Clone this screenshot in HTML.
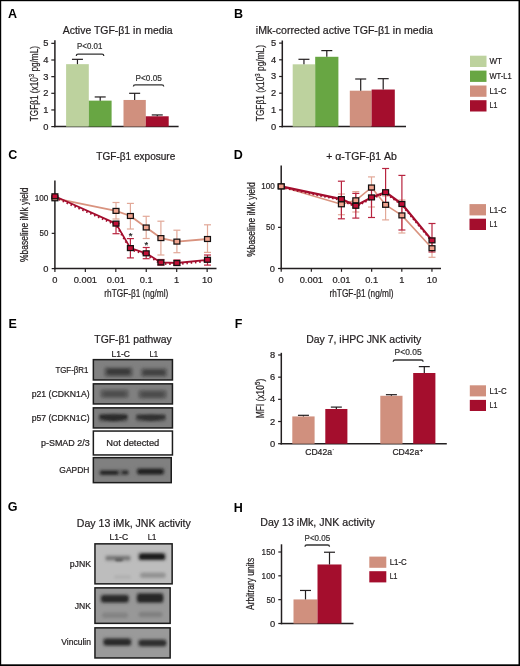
<!DOCTYPE html>
<html><head><meta charset="utf-8"><style>
html,body{margin:0;padding:0;background:#fff;}
body{width:520px;height:666px;overflow:hidden;}
svg{display:block;font-family:"Liberation Sans", sans-serif;will-change:transform;}
text{stroke:currentColor;stroke-width:0.22px;}
</style></head><body>
<svg width="520" height="666" viewBox="0 0 520 666">
<defs>
<filter id="b1" x="-50%" y="-100%" width="200%" height="300%"><feGaussianBlur stdDeviation="0.9"/></filter>
<filter id="b3" x="-50%" y="-100%" width="200%" height="300%"><feGaussianBlur stdDeviation="1.25"/></filter>
<filter id="b2" x="-50%" y="-100%" width="200%" height="300%"><feGaussianBlur stdDeviation="1.8"/></filter>
</defs>
<rect x="0" y="0" width="520" height="666" fill="#fff"/>
<text x="8" y="18.2" font-size="12.5" font-weight="bold" style="stroke-width:0" fill="#000" color="#000">A</text>
<text x="62.7" y="33.6" font-size="10.5" textLength="110" lengthAdjust="spacingAndGlyphs" fill="#231f20" color="#231f20">Active TGF-&#946;1 in media</text>
<line x1="54.9" y1="40.2" x2="54.9" y2="127.35" stroke="#231f20" stroke-width="1.5"/>
<line x1="54.15" y1="126.6" x2="178.6" y2="126.6" stroke="#231f20" stroke-width="1.5"/>
<line x1="51.3" y1="126.6" x2="54.9" y2="126.6" stroke="#231f20" stroke-width="1.2"/>
<text x="48.3" y="129.5" font-size="9.3" text-anchor="end" fill="#231f20" color="#231f20">0</text>
<line x1="51.3" y1="109.95" x2="54.9" y2="109.95" stroke="#231f20" stroke-width="1.2"/>
<text x="48.3" y="112.85" font-size="9.3" text-anchor="end" fill="#231f20" color="#231f20">1</text>
<line x1="51.3" y1="93.3" x2="54.9" y2="93.3" stroke="#231f20" stroke-width="1.2"/>
<text x="48.3" y="96.2" font-size="9.3" text-anchor="end" fill="#231f20" color="#231f20">2</text>
<line x1="51.3" y1="76.65" x2="54.9" y2="76.65" stroke="#231f20" stroke-width="1.2"/>
<text x="48.3" y="79.55" font-size="9.3" text-anchor="end" fill="#231f20" color="#231f20">3</text>
<line x1="51.3" y1="60" x2="54.9" y2="60" stroke="#231f20" stroke-width="1.2"/>
<text x="48.3" y="62.9" font-size="9.3" text-anchor="end" fill="#231f20" color="#231f20">4</text>
<line x1="51.3" y1="43.35" x2="54.9" y2="43.35" stroke="#231f20" stroke-width="1.2"/>
<text x="48.3" y="46.25" font-size="9.3" text-anchor="end" fill="#231f20" color="#231f20">5</text>
<text x="37.7" y="121.2" font-size="10.4" textLength="75.2" lengthAdjust="spacingAndGlyphs" transform="rotate(-90 37.7 121.2)" fill="#231f20" color="#231f20">TGF&#946;1 (x10<tspan font-size="7.6" dy="-3.6">3</tspan><tspan dy="3.6"> pg/mL)</tspan></text>
<rect x="66.1" y="64.16" width="22.7" height="62.44" fill="#bdd29e"/>
<line x1="77.45" y1="64.16" x2="77.45" y2="59.33" stroke="#231f20" stroke-width="1.2"/>
<line x1="71.95" y1="59.33" x2="82.95" y2="59.33" stroke="#231f20" stroke-width="1.2"/>
<rect x="88.8" y="100.63" width="22.8" height="25.97" fill="#68a643"/>
<line x1="100.2" y1="100.63" x2="100.2" y2="96.96" stroke="#231f20" stroke-width="1.2"/>
<line x1="94.7" y1="96.96" x2="105.7" y2="96.96" stroke="#231f20" stroke-width="1.2"/>
<rect x="123.5" y="99.96" width="22.3" height="26.64" fill="#d0907e"/>
<line x1="134.65" y1="99.96" x2="134.65" y2="93.3" stroke="#231f20" stroke-width="1.2"/>
<line x1="129.15" y1="93.3" x2="140.15" y2="93.3" stroke="#231f20" stroke-width="1.2"/>
<rect x="145.8" y="116.28" width="22.9" height="10.32" fill="#a40e2d"/>
<line x1="157.25" y1="116.28" x2="157.25" y2="114.94" stroke="#231f20" stroke-width="1.2"/>
<line x1="151.75" y1="114.94" x2="162.75" y2="114.94" stroke="#231f20" stroke-width="1.2"/>
<path d="M76.3 55.9 Q76.3 54.1 78.1 54.1 L102.0 54.1 Q103.8 54.1 103.8 55.9" fill="none" stroke="#333" stroke-width="1.3"/>
<text x="77" y="49" font-size="8.4" textLength="25.3" lengthAdjust="spacingAndGlyphs" fill="#333" color="#333">P&lt;0.01</text>
<path d="M133.4 86.6 Q133.4 84.8 135.20000000000002 84.8 L161.89999999999998 84.8 Q163.7 84.8 163.7 86.6" fill="none" stroke="#333" stroke-width="1.3"/>
<text x="135.6" y="80.7" font-size="8.4" textLength="26.2" lengthAdjust="spacingAndGlyphs" fill="#333" color="#333">P&lt;0.05</text>
<text x="234" y="18" font-size="12.5" font-weight="bold" style="stroke-width:0" fill="#000" color="#000">B</text>
<text x="255.8" y="33.7" font-size="10.5" textLength="177" lengthAdjust="spacingAndGlyphs" fill="#231f20" color="#231f20">iMk-corrected active TGF-&#946;1 in media</text>
<line x1="282.3" y1="40.5" x2="282.3" y2="127.35" stroke="#231f20" stroke-width="1.5"/>
<line x1="281.55" y1="126.6" x2="406" y2="126.6" stroke="#231f20" stroke-width="1.5"/>
<line x1="279.1" y1="126.6" x2="282.3" y2="126.6" stroke="#231f20" stroke-width="1.2"/>
<text x="276.2" y="129.5" font-size="9.3" text-anchor="end" fill="#231f20" color="#231f20">0</text>
<line x1="279.1" y1="109.9" x2="282.3" y2="109.9" stroke="#231f20" stroke-width="1.2"/>
<text x="276.2" y="112.8" font-size="9.3" text-anchor="end" fill="#231f20" color="#231f20">1</text>
<line x1="279.1" y1="93.2" x2="282.3" y2="93.2" stroke="#231f20" stroke-width="1.2"/>
<text x="276.2" y="96.1" font-size="9.3" text-anchor="end" fill="#231f20" color="#231f20">2</text>
<line x1="279.1" y1="76.5" x2="282.3" y2="76.5" stroke="#231f20" stroke-width="1.2"/>
<text x="276.2" y="79.4" font-size="9.3" text-anchor="end" fill="#231f20" color="#231f20">3</text>
<line x1="279.1" y1="59.8" x2="282.3" y2="59.8" stroke="#231f20" stroke-width="1.2"/>
<text x="276.2" y="62.7" font-size="9.3" text-anchor="end" fill="#231f20" color="#231f20">4</text>
<line x1="279.1" y1="43.1" x2="282.3" y2="43.1" stroke="#231f20" stroke-width="1.2"/>
<text x="276.2" y="46" font-size="9.3" text-anchor="end" fill="#231f20" color="#231f20">5</text>
<text x="263.7" y="121.2" font-size="10.4" textLength="76.2" lengthAdjust="spacingAndGlyphs" transform="rotate(-90 263.7 121.2)" fill="#231f20" color="#231f20">TGF&#946;1 (x10<tspan font-size="7.6" dy="-3.6">3</tspan><tspan dy="3.6"> pg/mL)</tspan></text>
<rect x="292.7" y="64.31" width="22.5" height="62.29" fill="#bdd29e"/>
<line x1="303.95" y1="64.31" x2="303.95" y2="59.3" stroke="#231f20" stroke-width="1.2"/>
<line x1="298.45" y1="59.3" x2="309.45" y2="59.3" stroke="#231f20" stroke-width="1.2"/>
<rect x="315.2" y="56.79" width="23.2" height="69.81" fill="#68a643"/>
<line x1="326.8" y1="56.79" x2="326.8" y2="50.61" stroke="#231f20" stroke-width="1.2"/>
<line x1="321.3" y1="50.61" x2="332.3" y2="50.61" stroke="#231f20" stroke-width="1.2"/>
<rect x="349.8" y="90.69" width="21.8" height="35.9" fill="#d0907e"/>
<line x1="360.7" y1="90.69" x2="360.7" y2="79" stroke="#231f20" stroke-width="1.2"/>
<line x1="355.2" y1="79" x2="366.2" y2="79" stroke="#231f20" stroke-width="1.2"/>
<rect x="371.6" y="89.53" width="23.2" height="37.07" fill="#a40e2d"/>
<line x1="383.2" y1="89.53" x2="383.2" y2="78.67" stroke="#231f20" stroke-width="1.2"/>
<line x1="377.7" y1="78.67" x2="388.7" y2="78.67" stroke="#231f20" stroke-width="1.2"/>
<rect x="470" y="55.7" width="16.5" height="11.3" fill="#bdd29e"/>
<text x="489.5" y="63.9" font-size="8.5" textLength="12.5" lengthAdjust="spacingAndGlyphs" fill="#231f20" color="#231f20">WT</text>
<rect x="470" y="70.6" width="16.5" height="11.3" fill="#68a643"/>
<text x="489.5" y="78.8" font-size="8.5" textLength="22.2" lengthAdjust="spacingAndGlyphs" fill="#231f20" color="#231f20">WT-L1</text>
<rect x="470" y="85.5" width="16.5" height="11.3" fill="#d0907e"/>
<text x="489.5" y="93.7" font-size="8.5" textLength="17.0" lengthAdjust="spacingAndGlyphs" fill="#231f20" color="#231f20">L1-C</text>
<rect x="470" y="100.2" width="16.5" height="11.3" fill="#a40e2d"/>
<text x="489.5" y="108.4" font-size="8.5" textLength="7.8" lengthAdjust="spacingAndGlyphs" fill="#231f20" color="#231f20">L1</text>
<text x="8.3" y="159.3" font-size="12.5" font-weight="bold" style="stroke-width:0" fill="#000" color="#000">C</text>
<text x="96.3" y="159.8" font-size="10.5" textLength="79" lengthAdjust="spacingAndGlyphs" fill="#231f20" color="#231f20">TGF-&#946;1 exposure</text>
<line x1="54.9" y1="180.6" x2="54.9" y2="269.35" stroke="#231f20" stroke-width="1.5"/>
<line x1="54.15" y1="268.6" x2="216.5" y2="268.6" stroke="#231f20" stroke-width="1.5"/>
<line x1="51.7" y1="268.6" x2="54.9" y2="268.6" stroke="#231f20" stroke-width="1.2"/>
<text x="48.4" y="271.6" font-size="9.3" text-anchor="end" fill="#231f20" color="#231f20">0</text>
<line x1="51.7" y1="233.35" x2="54.9" y2="233.35" stroke="#231f20" stroke-width="1.2"/>
<text x="48.4" y="236.35" font-size="9.3" text-anchor="end" textLength="8.8" lengthAdjust="spacingAndGlyphs" fill="#231f20" color="#231f20">50</text>
<line x1="51.7" y1="198.1" x2="54.9" y2="198.1" stroke="#231f20" stroke-width="1.2"/>
<text x="48.4" y="201.1" font-size="9.3" text-anchor="end" textLength="13.6" lengthAdjust="spacingAndGlyphs" fill="#231f20" color="#231f20">100</text>
<line x1="54.9" y1="268.6" x2="54.9" y2="271.9" stroke="#231f20" stroke-width="1.2"/>
<text x="54.9" y="283.3" font-size="9.3" text-anchor="middle" fill="#231f20" color="#231f20">0</text>
<line x1="85.35" y1="268.6" x2="85.35" y2="271.9" stroke="#231f20" stroke-width="1.2"/>
<text x="85.35" y="283.3" font-size="9.3" text-anchor="middle" fill="#231f20" color="#231f20">0.001</text>
<line x1="115.8" y1="268.6" x2="115.8" y2="271.9" stroke="#231f20" stroke-width="1.2"/>
<text x="115.8" y="283.3" font-size="9.3" text-anchor="middle" fill="#231f20" color="#231f20">0.01</text>
<line x1="146.25" y1="268.6" x2="146.25" y2="271.9" stroke="#231f20" stroke-width="1.2"/>
<text x="146.25" y="283.3" font-size="9.3" text-anchor="middle" fill="#231f20" color="#231f20">0.1</text>
<line x1="176.7" y1="268.6" x2="176.7" y2="271.9" stroke="#231f20" stroke-width="1.2"/>
<text x="176.7" y="283.3" font-size="9.3" text-anchor="middle" fill="#231f20" color="#231f20">1</text>
<line x1="207.15" y1="268.6" x2="207.15" y2="271.9" stroke="#231f20" stroke-width="1.2"/>
<text x="207.15" y="283.3" font-size="9.3" text-anchor="middle" fill="#231f20" color="#231f20">10</text>
<text x="136.3" y="297.4" font-size="10.5" text-anchor="middle" textLength="64" lengthAdjust="spacingAndGlyphs" fill="#231f20" color="#231f20">rhTGF-&#946;1 (ng/ml)</text>
<text x="27.9" y="224.8" font-size="10.5" text-anchor="middle" textLength="74.5" lengthAdjust="spacingAndGlyphs" transform="rotate(-90 27.9 224.8)" fill="#231f20" color="#231f20">%baseline iMk yield</text>
<line x1="116" y1="202.5" x2="116" y2="219" stroke="#e2a898" stroke-width="1.2"/>
<line x1="112.5" y1="202.5" x2="119.5" y2="202.5" stroke="#e2a898" stroke-width="1.2"/>
<line x1="112.5" y1="219" x2="119.5" y2="219" stroke="#e2a898" stroke-width="1.2"/>
<line x1="130.4" y1="203.4" x2="130.4" y2="229" stroke="#e2a898" stroke-width="1.2"/>
<line x1="126.9" y1="203.4" x2="133.9" y2="203.4" stroke="#e2a898" stroke-width="1.2"/>
<line x1="126.9" y1="229" x2="133.9" y2="229" stroke="#e2a898" stroke-width="1.2"/>
<line x1="146.2" y1="216.3" x2="146.2" y2="238.5" stroke="#e2a898" stroke-width="1.2"/>
<line x1="142.7" y1="216.3" x2="149.7" y2="216.3" stroke="#e2a898" stroke-width="1.2"/>
<line x1="142.7" y1="238.5" x2="149.7" y2="238.5" stroke="#e2a898" stroke-width="1.2"/>
<line x1="160.9" y1="221.2" x2="160.9" y2="255" stroke="#e2a898" stroke-width="1.2"/>
<line x1="157.4" y1="221.2" x2="164.4" y2="221.2" stroke="#e2a898" stroke-width="1.2"/>
<line x1="157.4" y1="255" x2="164.4" y2="255" stroke="#e2a898" stroke-width="1.2"/>
<line x1="176.9" y1="230.2" x2="176.9" y2="252.7" stroke="#e2a898" stroke-width="1.2"/>
<line x1="173.4" y1="230.2" x2="180.4" y2="230.2" stroke="#e2a898" stroke-width="1.2"/>
<line x1="173.4" y1="252.7" x2="180.4" y2="252.7" stroke="#e2a898" stroke-width="1.2"/>
<line x1="207.5" y1="224.8" x2="207.5" y2="252.4" stroke="#e2a898" stroke-width="1.2"/>
<line x1="204" y1="224.8" x2="211" y2="224.8" stroke="#e2a898" stroke-width="1.2"/>
<line x1="204" y1="252.4" x2="211" y2="252.4" stroke="#e2a898" stroke-width="1.2"/>
<line x1="116" y1="223.6" x2="116" y2="233.7" stroke="#b8243f" stroke-width="1.2"/>
<line x1="112.5" y1="223.6" x2="119.5" y2="223.6" stroke="#b8243f" stroke-width="1.2"/>
<line x1="112.5" y1="233.7" x2="119.5" y2="233.7" stroke="#b8243f" stroke-width="1.2"/>
<line x1="130.4" y1="238.6" x2="130.4" y2="257.9" stroke="#b8243f" stroke-width="1.2"/>
<line x1="126.9" y1="238.6" x2="133.9" y2="238.6" stroke="#b8243f" stroke-width="1.2"/>
<line x1="126.9" y1="257.9" x2="133.9" y2="257.9" stroke="#b8243f" stroke-width="1.2"/>
<line x1="146.2" y1="247.5" x2="146.2" y2="258.7" stroke="#b8243f" stroke-width="1.2"/>
<line x1="142.7" y1="247.5" x2="149.7" y2="247.5" stroke="#b8243f" stroke-width="1.2"/>
<line x1="142.7" y1="258.7" x2="149.7" y2="258.7" stroke="#b8243f" stroke-width="1.2"/>
<line x1="160.9" y1="259.5" x2="160.9" y2="265.2" stroke="#b8243f" stroke-width="1.2"/>
<line x1="157.4" y1="259.5" x2="164.4" y2="259.5" stroke="#b8243f" stroke-width="1.2"/>
<line x1="157.4" y1="265.2" x2="164.4" y2="265.2" stroke="#b8243f" stroke-width="1.2"/>
<line x1="176.9" y1="260" x2="176.9" y2="265.5" stroke="#b8243f" stroke-width="1.2"/>
<line x1="173.4" y1="260" x2="180.4" y2="260" stroke="#b8243f" stroke-width="1.2"/>
<line x1="173.4" y1="265.5" x2="180.4" y2="265.5" stroke="#b8243f" stroke-width="1.2"/>
<line x1="207.5" y1="255" x2="207.5" y2="265.1" stroke="#b8243f" stroke-width="1.2"/>
<line x1="204" y1="255" x2="211" y2="255" stroke="#b8243f" stroke-width="1.2"/>
<line x1="204" y1="265.1" x2="211" y2="265.1" stroke="#b8243f" stroke-width="1.2"/>
<polyline points="54.90,198.30 116.00,210.90 130.40,216.00 146.20,227.50 160.90,238.10 176.90,241.60 207.50,239.00" fill="none" stroke="#d9937f" stroke-width="1.8" stroke-linejoin="round"/>
<polyline points="54.90,197.50 116.00,224.80 130.40,249.30 146.20,254.50 160.90,263.60 176.90,264.20 207.50,261.00" fill="none" stroke="#a30d2d" stroke-width="2.2" stroke-linejoin="round" stroke-dasharray="1.5 2.8"/>
<polyline points="54.90,196.30 116.00,223.60 130.40,248.10 146.20,253.30 160.90,262.40 176.90,263.00 207.50,259.80" fill="none" stroke="#a30d2d" stroke-width="1.8" stroke-linejoin="round"/>
<rect x="51.95" y="195.85" width="5.9" height="4.9" fill="#f0a48f" stroke="#151010" stroke-width="1.25"/>
<rect x="113.05" y="208.45" width="5.9" height="4.9" fill="#f0a48f" stroke="#151010" stroke-width="1.25"/>
<rect x="127.45" y="213.55" width="5.9" height="4.9" fill="#f0a48f" stroke="#151010" stroke-width="1.25"/>
<rect x="143.25" y="225.05" width="5.9" height="4.9" fill="#f0a48f" stroke="#151010" stroke-width="1.25"/>
<rect x="157.95" y="235.65" width="5.9" height="4.9" fill="#f0a48f" stroke="#151010" stroke-width="1.25"/>
<rect x="173.95" y="239.15" width="5.9" height="4.9" fill="#f0a48f" stroke="#151010" stroke-width="1.25"/>
<rect x="204.55" y="236.55" width="5.9" height="4.9" fill="#f0a48f" stroke="#151010" stroke-width="1.25"/>
<rect x="51.95" y="193.85" width="5.9" height="4.9" fill="#c20f37" stroke="#151010" stroke-width="1.25"/>
<rect x="113.05" y="221.15" width="5.9" height="4.9" fill="#c20f37" stroke="#151010" stroke-width="1.25"/>
<rect x="127.45" y="245.65" width="5.9" height="4.9" fill="#c20f37" stroke="#151010" stroke-width="1.25"/>
<rect x="143.25" y="250.85" width="5.9" height="4.9" fill="#c20f37" stroke="#151010" stroke-width="1.25"/>
<rect x="157.95" y="259.95" width="5.9" height="4.9" fill="#c20f37" stroke="#151010" stroke-width="1.25"/>
<rect x="173.95" y="260.55" width="5.9" height="4.9" fill="#c20f37" stroke="#151010" stroke-width="1.25"/>
<rect x="204.55" y="257.35" width="5.9" height="4.9" fill="#c20f37" stroke="#151010" stroke-width="1.25"/>
<text x="130.5" y="239.4" font-size="9.5" text-anchor="middle" fill="#222" color="#222">*</text>
<text x="146.3" y="248" font-size="9.5" text-anchor="middle" fill="#222" color="#222">*</text>
<text x="233.8" y="159.4" font-size="12.5" font-weight="bold" style="stroke-width:0" fill="#000" color="#000">D</text>
<text x="326.2" y="160.4" font-size="10.5" textLength="70.7" lengthAdjust="spacingAndGlyphs" fill="#231f20" color="#231f20">+ &#945;-TGF-&#946;1 Ab</text>
<line x1="281.2" y1="165.4" x2="281.2" y2="269.25" stroke="#231f20" stroke-width="1.5"/>
<line x1="280.45" y1="268.5" x2="441" y2="268.5" stroke="#231f20" stroke-width="1.5"/>
<line x1="278" y1="268.5" x2="281.2" y2="268.5" stroke="#231f20" stroke-width="1.2"/>
<text x="274.8" y="271.5" font-size="9.3" text-anchor="end" fill="#231f20" color="#231f20">0</text>
<line x1="278" y1="227.35" x2="281.2" y2="227.35" stroke="#231f20" stroke-width="1.2"/>
<text x="274.8" y="230.35" font-size="9.3" text-anchor="end" textLength="8.8" lengthAdjust="spacingAndGlyphs" fill="#231f20" color="#231f20">50</text>
<line x1="278" y1="186.2" x2="281.2" y2="186.2" stroke="#231f20" stroke-width="1.2"/>
<text x="274.8" y="189.2" font-size="9.3" text-anchor="end" textLength="13.6" lengthAdjust="spacingAndGlyphs" fill="#231f20" color="#231f20">100</text>
<line x1="281.2" y1="268.5" x2="281.2" y2="271.8" stroke="#231f20" stroke-width="1.2"/>
<text x="281.2" y="283.3" font-size="9.3" text-anchor="middle" fill="#231f20" color="#231f20">0</text>
<line x1="311.35" y1="268.5" x2="311.35" y2="271.8" stroke="#231f20" stroke-width="1.2"/>
<text x="311.35" y="283.3" font-size="9.3" text-anchor="middle" fill="#231f20" color="#231f20">0.001</text>
<line x1="341.5" y1="268.5" x2="341.5" y2="271.8" stroke="#231f20" stroke-width="1.2"/>
<text x="341.5" y="283.3" font-size="9.3" text-anchor="middle" fill="#231f20" color="#231f20">0.01</text>
<line x1="371.65" y1="268.5" x2="371.65" y2="271.8" stroke="#231f20" stroke-width="1.2"/>
<text x="371.65" y="283.3" font-size="9.3" text-anchor="middle" fill="#231f20" color="#231f20">0.1</text>
<line x1="401.8" y1="268.5" x2="401.8" y2="271.8" stroke="#231f20" stroke-width="1.2"/>
<text x="401.8" y="283.3" font-size="9.3" text-anchor="middle" fill="#231f20" color="#231f20">1</text>
<line x1="431.95" y1="268.5" x2="431.95" y2="271.8" stroke="#231f20" stroke-width="1.2"/>
<text x="431.95" y="283.3" font-size="9.3" text-anchor="middle" fill="#231f20" color="#231f20">10</text>
<text x="361.5" y="297.4" font-size="10.5" text-anchor="middle" textLength="64" lengthAdjust="spacingAndGlyphs" fill="#231f20" color="#231f20">rhTGF-&#946;1 (ng/ml)</text>
<text x="254.9" y="219.6" font-size="10.5" text-anchor="middle" textLength="74.5" lengthAdjust="spacingAndGlyphs" transform="rotate(-90 254.9 219.6)" fill="#231f20" color="#231f20">%baseline iMk yield</text>
<line x1="341.4" y1="194" x2="341.4" y2="214.7" stroke="#e2a898" stroke-width="1.2"/>
<line x1="337.9" y1="194" x2="344.9" y2="194" stroke="#e2a898" stroke-width="1.2"/>
<line x1="337.9" y1="214.7" x2="344.9" y2="214.7" stroke="#e2a898" stroke-width="1.2"/>
<line x1="355.8" y1="191.6" x2="355.8" y2="212" stroke="#e2a898" stroke-width="1.2"/>
<line x1="352.3" y1="191.6" x2="359.3" y2="191.6" stroke="#e2a898" stroke-width="1.2"/>
<line x1="352.3" y1="212" x2="359.3" y2="212" stroke="#e2a898" stroke-width="1.2"/>
<line x1="371.5" y1="176.9" x2="371.5" y2="207" stroke="#e2a898" stroke-width="1.2"/>
<line x1="368" y1="176.9" x2="375" y2="176.9" stroke="#e2a898" stroke-width="1.2"/>
<line x1="368" y1="207" x2="375" y2="207" stroke="#e2a898" stroke-width="1.2"/>
<line x1="385.6" y1="196" x2="385.6" y2="219.9" stroke="#e2a898" stroke-width="1.2"/>
<line x1="382.1" y1="196" x2="389.1" y2="196" stroke="#e2a898" stroke-width="1.2"/>
<line x1="382.1" y1="219.9" x2="389.1" y2="219.9" stroke="#e2a898" stroke-width="1.2"/>
<line x1="401.9" y1="200" x2="401.9" y2="233" stroke="#e2a898" stroke-width="1.2"/>
<line x1="398.4" y1="200" x2="405.4" y2="200" stroke="#e2a898" stroke-width="1.2"/>
<line x1="398.4" y1="233" x2="405.4" y2="233" stroke="#e2a898" stroke-width="1.2"/>
<line x1="432" y1="238" x2="432" y2="257.3" stroke="#e2a898" stroke-width="1.2"/>
<line x1="428.5" y1="238" x2="435.5" y2="238" stroke="#e2a898" stroke-width="1.2"/>
<line x1="428.5" y1="257.3" x2="435.5" y2="257.3" stroke="#e2a898" stroke-width="1.2"/>
<line x1="341.4" y1="181.2" x2="341.4" y2="218.8" stroke="#b8243f" stroke-width="1.2"/>
<line x1="337.9" y1="181.2" x2="344.9" y2="181.2" stroke="#b8243f" stroke-width="1.2"/>
<line x1="337.9" y1="218.8" x2="344.9" y2="218.8" stroke="#b8243f" stroke-width="1.2"/>
<line x1="355.8" y1="193.4" x2="355.8" y2="218.1" stroke="#b8243f" stroke-width="1.2"/>
<line x1="352.3" y1="193.4" x2="359.3" y2="193.4" stroke="#b8243f" stroke-width="1.2"/>
<line x1="352.3" y1="218.1" x2="359.3" y2="218.1" stroke="#b8243f" stroke-width="1.2"/>
<line x1="371.5" y1="190" x2="371.5" y2="217.5" stroke="#b8243f" stroke-width="1.2"/>
<line x1="368" y1="190" x2="375" y2="190" stroke="#b8243f" stroke-width="1.2"/>
<line x1="368" y1="217.5" x2="375" y2="217.5" stroke="#b8243f" stroke-width="1.2"/>
<line x1="385.6" y1="168.5" x2="385.6" y2="205" stroke="#b8243f" stroke-width="1.2"/>
<line x1="382.1" y1="168.5" x2="389.1" y2="168.5" stroke="#b8243f" stroke-width="1.2"/>
<line x1="382.1" y1="205" x2="389.1" y2="205" stroke="#b8243f" stroke-width="1.2"/>
<line x1="401.9" y1="175.4" x2="401.9" y2="230" stroke="#b8243f" stroke-width="1.2"/>
<line x1="398.4" y1="175.4" x2="405.4" y2="175.4" stroke="#b8243f" stroke-width="1.2"/>
<line x1="398.4" y1="230" x2="405.4" y2="230" stroke="#b8243f" stroke-width="1.2"/>
<line x1="432" y1="223.5" x2="432" y2="252" stroke="#b8243f" stroke-width="1.2"/>
<line x1="428.5" y1="223.5" x2="435.5" y2="223.5" stroke="#b8243f" stroke-width="1.2"/>
<line x1="428.5" y1="252" x2="435.5" y2="252" stroke="#b8243f" stroke-width="1.2"/>
<polyline points="281.20,186.40 341.40,204.30 355.80,200.30 371.50,187.50 385.60,204.80 401.90,215.40 432.00,248.20" fill="none" stroke="#d9937f" stroke-width="1.6" stroke-linejoin="round"/>
<polyline points="281.20,187.40 341.40,200.10 355.80,206.80 371.50,198.40 385.60,193.20 401.90,205.00 432.00,241.40" fill="none" stroke="#a30d2d" stroke-width="2.0" stroke-linejoin="round" stroke-dasharray="1.6 2.4"/>
<polyline points="281.20,186.40 341.40,199.10 355.80,205.80 371.50,197.40 385.60,192.20 401.90,204.00 432.00,240.40" fill="none" stroke="#a30d2d" stroke-width="2.2" stroke-linejoin="round"/>
<rect x="278.25" y="183.95" width="5.9" height="4.9" fill="#c20f37" stroke="#151010" stroke-width="1.25"/>
<rect x="338.45" y="196.65" width="5.9" height="4.9" fill="#c20f37" stroke="#151010" stroke-width="1.25"/>
<rect x="352.85" y="203.35" width="5.9" height="4.9" fill="#c20f37" stroke="#151010" stroke-width="1.25"/>
<rect x="368.55" y="194.95" width="5.9" height="4.9" fill="#c20f37" stroke="#151010" stroke-width="1.25"/>
<rect x="382.65" y="189.75" width="5.9" height="4.9" fill="#c20f37" stroke="#151010" stroke-width="1.25"/>
<rect x="398.95" y="201.55" width="5.9" height="4.9" fill="#c20f37" stroke="#151010" stroke-width="1.25"/>
<rect x="429.05" y="237.95" width="5.9" height="4.9" fill="#c20f37" stroke="#151010" stroke-width="1.25"/>
<rect x="278.25" y="183.95" width="5.9" height="4.9" fill="#f0a48f" stroke="#151010" stroke-width="1.25"/>
<rect x="338.45" y="201.85" width="5.9" height="4.9" fill="#f0a48f" stroke="#151010" stroke-width="1.25"/>
<rect x="352.85" y="197.85" width="5.9" height="4.9" fill="#f0a48f" stroke="#151010" stroke-width="1.25"/>
<rect x="368.55" y="185.05" width="5.9" height="4.9" fill="#f0a48f" stroke="#151010" stroke-width="1.25"/>
<rect x="382.65" y="202.35" width="5.9" height="4.9" fill="#f0a48f" stroke="#151010" stroke-width="1.25"/>
<rect x="398.95" y="212.95" width="5.9" height="4.9" fill="#f0a48f" stroke="#151010" stroke-width="1.25"/>
<rect x="429.05" y="245.75" width="5.9" height="4.9" fill="#f0a48f" stroke="#151010" stroke-width="1.25"/>
<rect x="469.5" y="204.1" width="16.5" height="11.3" fill="#d0907e"/>
<text x="489.5" y="212.8" font-size="8.5" textLength="17.0" lengthAdjust="spacingAndGlyphs" fill="#231f20" color="#231f20">L1-C</text>
<rect x="469.5" y="218.7" width="16.5" height="11.3" fill="#a40e2d"/>
<text x="489.5" y="227.4" font-size="8.5" textLength="7.8" lengthAdjust="spacingAndGlyphs" fill="#231f20" color="#231f20">L1</text>
<text x="8.4" y="327.6" font-size="12.5" font-weight="bold" style="stroke-width:0" fill="#000" color="#000">E</text>
<text x="94.3" y="343.2" font-size="10.5" textLength="77.5" lengthAdjust="spacingAndGlyphs" fill="#231f20" color="#231f20">TGF-&#946;1 pathway</text>
<text x="111.4" y="356.5" font-size="8.3" textLength="18.5" lengthAdjust="spacingAndGlyphs" fill="#231f20" color="#231f20">L1-C</text>
<text x="149.5" y="356.5" font-size="8.3" textLength="8.6" lengthAdjust="spacingAndGlyphs" fill="#231f20" color="#231f20">L1</text>
<rect x="93.35" y="359.65" width="79.10" height="20.30" fill="#808080" stroke="#1c1c1c" stroke-width="1.5"/>
<rect x="104.0" y="366.90" width="29.00" height="10.0" rx="3" fill="#5c5c5c" filter="url(#b2)"/>
<rect x="140.5" y="367.85" width="27.00" height="9.5" rx="3" fill="#5e5e5e" filter="url(#b2)"/>
<rect x="107.0" y="368.90" width="23.00" height="5.6" rx="2.8" fill="#3a3a3a" filter="url(#b3)"/>
<rect x="143.0" y="369.90" width="22.00" height="5.2" rx="2.6" fill="#424242" filter="url(#b3)"/>
<rect x="93.35" y="383.85" width="79.10" height="20.10" fill="#808080" stroke="#1c1c1c" stroke-width="1.5"/>
<rect x="100.0" y="389.20" width="29.00" height="9.0" rx="3" fill="#606060" filter="url(#b2)"/>
<rect x="138.0" y="389.70" width="29.00" height="9.0" rx="3" fill="#5e5e5e" filter="url(#b2)"/>
<rect x="103.0" y="391.65" width="23.00" height="4.5" rx="2.25" fill="#4c4c4c" filter="url(#b2)"/>
<rect x="141.0" y="392.35" width="23.00" height="4.5" rx="2.25" fill="#4a4a4a" filter="url(#b2)"/>
<rect x="93.35" y="407.85" width="79.10" height="20.10" fill="#7e7e7e" stroke="#1c1c1c" stroke-width="1.5"/>
<rect x="98.5" y="413.80" width="29.50" height="8.0" rx="3" fill="#555555" filter="url(#b2)"/>
<rect x="135.5" y="414.00" width="30.50" height="7.6" rx="3" fill="#585858" filter="url(#b2)"/>
<path d="M100 415.2 Q113.5 413.8 127 415.2 L127 418.2 Q113.5 424 100 418.2 Z" fill="#2c2c2c" filter="url(#b3)"/>
<path d="M137 415.5 Q151 414 165 415.5 L165 418.3 Q151 423.2 137 418.3 Z" fill="#333" filter="url(#b3)"/>
<rect x="93.35" y="431.05" width="79.1" height="23.9" fill="#fff" stroke="#1c1c1c" stroke-width="1.5"/>
<text x="106.3" y="446" font-size="9.3" textLength="53" lengthAdjust="spacingAndGlyphs" fill="#231f20" color="#231f20">Not detected</text>
<rect x="93.35" y="457.65" width="77.90" height="25.00" fill="#808080" stroke="#1c1c1c" stroke-width="1.5"/>
<rect x="98.5" y="469.35" width="31.00" height="6.5" rx="3" fill="#626262" filter="url(#b2)"/>
<rect x="136.0" y="467.85" width="29.00" height="7.5" rx="3" fill="#5a5a5a" filter="url(#b2)"/>
<rect x="100.3" y="471.10" width="18.00" height="3.4" rx="1.7" fill="#262626" filter="url(#b1)"/>
<rect x="122.0" y="471.00" width="6.00" height="3.0" rx="1.5" fill="#2a2a2a" filter="url(#b1)"/>
<rect x="137.8" y="469.30" width="25.40" height="4.6" rx="2.3" fill="#222" filter="url(#b1)"/>
<text x="55.4" y="373.2" font-size="8.5" textLength="33.0" lengthAdjust="spacingAndGlyphs" fill="#231f20" color="#231f20">TGF-&#946;R1</text>
<text x="31.7" y="397.2" font-size="8.5" textLength="57.9" lengthAdjust="spacingAndGlyphs" fill="#231f20" color="#231f20">p21 (CDKN1A)</text>
<text x="31.7" y="421.2" font-size="8.5" textLength="57.9" lengthAdjust="spacingAndGlyphs" fill="#231f20" color="#231f20">p57 (CDKN1C)</text>
<text x="41" y="445.5" font-size="8.5" textLength="48.6" lengthAdjust="spacingAndGlyphs" fill="#231f20" color="#231f20">p-SMAD 2/3</text>
<text x="59.3" y="473.3" font-size="8.5" textLength="30.1" lengthAdjust="spacingAndGlyphs" fill="#231f20" color="#231f20">GAPDH</text>
<text x="234.7" y="328" font-size="12.5" font-weight="bold" style="stroke-width:0" fill="#000" color="#000">F</text>
<text x="306.2" y="342.7" font-size="10.5" textLength="115.1" lengthAdjust="spacingAndGlyphs" fill="#231f20" color="#231f20">Day 7, iHPC JNK activity</text>
<line x1="281.3" y1="352.8" x2="281.3" y2="444.45" stroke="#231f20" stroke-width="1.5"/>
<line x1="280.55" y1="443.7" x2="446.8" y2="443.7" stroke="#231f20" stroke-width="1.5"/>
<line x1="278.1" y1="443.7" x2="281.3" y2="443.7" stroke="#231f20" stroke-width="1.2"/>
<text x="275.2" y="446.7" font-size="9.3" text-anchor="end" fill="#231f20" color="#231f20">0</text>
<line x1="278.1" y1="421.52" x2="281.3" y2="421.52" stroke="#231f20" stroke-width="1.2"/>
<text x="275.2" y="424.52" font-size="9.3" text-anchor="end" fill="#231f20" color="#231f20">2</text>
<line x1="278.1" y1="399.34" x2="281.3" y2="399.34" stroke="#231f20" stroke-width="1.2"/>
<text x="275.2" y="402.34" font-size="9.3" text-anchor="end" fill="#231f20" color="#231f20">4</text>
<line x1="278.1" y1="377.16" x2="281.3" y2="377.16" stroke="#231f20" stroke-width="1.2"/>
<text x="275.2" y="380.16" font-size="9.3" text-anchor="end" fill="#231f20" color="#231f20">6</text>
<line x1="278.1" y1="354.98" x2="281.3" y2="354.98" stroke="#231f20" stroke-width="1.2"/>
<text x="275.2" y="357.98" font-size="9.3" text-anchor="end" fill="#231f20" color="#231f20">8</text>
<text x="263.9" y="418.3" font-size="10.5" textLength="39.5" lengthAdjust="spacingAndGlyphs" transform="rotate(-90 263.9 418.3)" fill="#231f20" color="#231f20">MFI (x10<tspan font-size="7.6" dy="-3.6">5</tspan><tspan dy="3.6">)</tspan></text>
<rect x="292.3" y="416.42" width="22.3" height="27.28" fill="#d0907e"/>
<line x1="303.45" y1="416.42" x2="303.45" y2="415.31" stroke="#231f20" stroke-width="1.2"/>
<line x1="297.95" y1="415.31" x2="308.95" y2="415.31" stroke="#231f20" stroke-width="1.2"/>
<rect x="325.3" y="408.99" width="22.1" height="34.71" fill="#a40e2d"/>
<line x1="336.35" y1="408.99" x2="336.35" y2="407.1" stroke="#231f20" stroke-width="1.2"/>
<line x1="330.85" y1="407.1" x2="341.85" y2="407.1" stroke="#231f20" stroke-width="1.2"/>
<rect x="380.3" y="395.79" width="22.2" height="47.91" fill="#d0907e"/>
<line x1="391.4" y1="395.79" x2="391.4" y2="394.68" stroke="#231f20" stroke-width="1.2"/>
<line x1="385.9" y1="394.68" x2="396.9" y2="394.68" stroke="#231f20" stroke-width="1.2"/>
<rect x="413.2" y="373" width="22.2" height="70.7" fill="#a40e2d"/>
<line x1="424.3" y1="373" x2="424.3" y2="366.62" stroke="#231f20" stroke-width="1.2"/>
<line x1="418.8" y1="366.62" x2="429.8" y2="366.62" stroke="#231f20" stroke-width="1.2"/>
<path d="M393.2 361.8 Q393.2 360.0 395.0 360.0 L421.3 360.0 Q423.1 360.0 423.1 361.8" fill="none" stroke="#333" stroke-width="1.3"/>
<text x="394.6" y="354.7" font-size="8.4" textLength="27.0" lengthAdjust="spacingAndGlyphs" fill="#333" color="#333">P&lt;0.05</text>
<text x="305.2" y="454.6" font-size="8.6" textLength="26.8" lengthAdjust="spacingAndGlyphs" fill="#231f20" color="#231f20">CD42a</text>
<line x1="332.6" y1="449.6" x2="334" y2="449.6" stroke="#666" stroke-width="0.7"/>
<text x="392.4" y="454.6" font-size="8.6" textLength="26.8" lengthAdjust="spacingAndGlyphs" fill="#231f20" color="#231f20">CD42a</text>
<text x="419.6" y="451.6" font-size="6.2" fill="#231f20" color="#231f20">+</text>
<rect x="469.8" y="385.3" width="16.2" height="11.1" fill="#d0907e"/>
<text x="489.6" y="393.7" font-size="8.5" textLength="17.0" lengthAdjust="spacingAndGlyphs" fill="#231f20" color="#231f20">L1-C</text>
<rect x="469.8" y="399.9" width="16.2" height="11.1" fill="#a40e2d"/>
<text x="489.6" y="408.3" font-size="8.5" textLength="7.8" lengthAdjust="spacingAndGlyphs" fill="#231f20" color="#231f20">L1</text>
<text x="7.8" y="511.3" font-size="12.5" font-weight="bold" style="stroke-width:0" fill="#000" color="#000">G</text>
<text x="76.8" y="527" font-size="10.5" textLength="114" lengthAdjust="spacingAndGlyphs" fill="#231f20" color="#231f20">Day 13 iMk, JNK activity</text>
<text x="109.6" y="539.7" font-size="8.3" textLength="18.5" lengthAdjust="spacingAndGlyphs" fill="#231f20" color="#231f20">L1-C</text>
<text x="147.7" y="539.7" font-size="8.3" textLength="8.6" lengthAdjust="spacingAndGlyphs" fill="#231f20" color="#231f20">L1</text>
<rect x="94.95" y="543.85" width="77.20" height="40.00" fill="#bdbdbd" stroke="#1c1c1c" stroke-width="1.5"/>
<rect x="104.5" y="554.70" width="27.00" height="7.0" rx="3" fill="#a4a4a4" filter="url(#b2)"/>
<rect x="106.0" y="556.30" width="24.00" height="3.8" rx="1.9" fill="#7c7c7c" filter="url(#b3)"/>
<rect x="115.0" y="558.40" width="8.00" height="2.8" rx="1.4" fill="#5a5a5a" filter="url(#b1)"/>
<rect x="137.5" y="552.10" width="29.00" height="9.0" rx="3" fill="#8a8a8a" filter="url(#b2)"/>
<rect x="139.3" y="553.80" width="25.50" height="5.8" rx="2.9" fill="#1e1e1e" filter="url(#b1)"/>
<rect x="139.5" y="572.30" width="26.50" height="6.0" rx="3.0" fill="#a6a6a6" filter="url(#b2)"/>
<rect x="141.0" y="573.80" width="24.00" height="3.0" rx="1.5" fill="#8c8c8c" filter="url(#b2)"/>
<rect x="114" y="575.50" width="17.00" height="3.0" rx="1.5" fill="#adadad" filter="url(#b2)"/>
<rect x="94.95" y="587.85" width="75.20" height="35.50" fill="#989898" stroke="#1c1c1c" stroke-width="1.5"/>
<rect x="100.0" y="594.05" width="29.50" height="9.5" rx="3" fill="#6a6a6a" filter="url(#b2)"/>
<rect x="136.0" y="592.50" width="28.00" height="11.0" rx="3" fill="#666" filter="url(#b2)"/>
<rect x="101.5" y="595.60" width="26.70" height="6.4" rx="3" fill="#2a2a2a" filter="url(#b1)"/>
<rect x="137.5" y="594.10" width="25.30" height="7.8" rx="3" fill="#282828" filter="url(#b1)"/>
<rect x="102" y="612.45" width="26.00" height="5.5" rx="2.75" fill="#838383" filter="url(#b2)"/>
<rect x="138.5" y="611.75" width="24.00" height="5.5" rx="2.75" fill="#808080" filter="url(#b2)"/>
<rect x="94.95" y="627.85" width="75.20" height="30.10" fill="#9a9a9a" stroke="#1c1c1c" stroke-width="1.5"/>
<rect x="102.5" y="637.60" width="29.50" height="9.0" rx="3" fill="#6a6a6a" filter="url(#b2)"/>
<rect x="137.5" y="638.75" width="29.50" height="8.5" rx="3" fill="#6e6e6e" filter="url(#b2)"/>
<rect x="104.0" y="639.20" width="26.60" height="5.8" rx="2.9" fill="#2a2a2a" filter="url(#b1)"/>
<rect x="139.1" y="640.30" width="26.70" height="5.4" rx="2.7" fill="#2e2e2e" filter="url(#b1)"/>
<text x="69.7" y="567" font-size="8.5" textLength="21.3" lengthAdjust="spacingAndGlyphs" fill="#231f20" color="#231f20">pJNK</text>
<text x="74.8" y="608.5" font-size="8.5" textLength="16.2" lengthAdjust="spacingAndGlyphs" fill="#231f20" color="#231f20">JNK</text>
<text x="61.3" y="645" font-size="8.5" textLength="29.7" lengthAdjust="spacingAndGlyphs" fill="#231f20" color="#231f20">Vinculin</text>
<text x="233.8" y="511.8" font-size="12.5" font-weight="bold" style="stroke-width:0" fill="#000" color="#000">H</text>
<text x="260.3" y="526.3" font-size="10.5" textLength="114.4" lengthAdjust="spacingAndGlyphs" fill="#231f20" color="#231f20">Day 13 iMk, JNK activity</text>
<line x1="281.5" y1="544.3" x2="281.5" y2="624.25" stroke="#231f20" stroke-width="1.5"/>
<line x1="280.75" y1="623.5" x2="353.5" y2="623.5" stroke="#231f20" stroke-width="1.5"/>
<line x1="278.3" y1="623.5" x2="281.5" y2="623.5" stroke="#231f20" stroke-width="1.2"/>
<text x="275.2" y="626.5" font-size="9.3" text-anchor="end" fill="#231f20" color="#231f20">0</text>
<line x1="278.3" y1="599.66" x2="281.5" y2="599.66" stroke="#231f20" stroke-width="1.2"/>
<text x="275.2" y="602.66" font-size="9.3" text-anchor="end" textLength="8.8" lengthAdjust="spacingAndGlyphs" fill="#231f20" color="#231f20">50</text>
<line x1="278.3" y1="575.83" x2="281.5" y2="575.83" stroke="#231f20" stroke-width="1.2"/>
<text x="275.2" y="578.83" font-size="9.3" text-anchor="end" textLength="13.6" lengthAdjust="spacingAndGlyphs" fill="#231f20" color="#231f20">100</text>
<line x1="278.3" y1="552" x2="281.5" y2="552" stroke="#231f20" stroke-width="1.2"/>
<text x="275.2" y="555" font-size="9.3" text-anchor="end" textLength="13.6" lengthAdjust="spacingAndGlyphs" fill="#231f20" color="#231f20">150</text>
<text x="253.7" y="610" font-size="10.0" textLength="52.2" lengthAdjust="spacingAndGlyphs" transform="rotate(-90 253.7 610.0)" fill="#231f20" color="#231f20">Arbitrary units</text>
<rect x="293.5" y="599.43" width="24" height="24.07" fill="#d0907e"/>
<line x1="305.5" y1="599.43" x2="305.5" y2="590.46" stroke="#231f20" stroke-width="1.2"/>
<line x1="300" y1="590.46" x2="311" y2="590.46" stroke="#231f20" stroke-width="1.2"/>
<rect x="317.5" y="564.48" width="24" height="59.02" fill="#a40e2d"/>
<line x1="329.5" y1="564.48" x2="329.5" y2="552.23" stroke="#231f20" stroke-width="1.2"/>
<line x1="324" y1="552.23" x2="335" y2="552.23" stroke="#231f20" stroke-width="1.2"/>
<path d="M305.0 546.8 Q305.0 545.0 306.8 545.0 L327.7 545.0 Q329.5 545.0 329.5 546.8" fill="none" stroke="#333" stroke-width="1.3"/>
<text x="304.6" y="540.9" font-size="8.4" textLength="25.6" lengthAdjust="spacingAndGlyphs" fill="#333" color="#333">P&lt;0.05</text>
<rect x="369.3" y="556.6" width="17" height="11.2" fill="#d0907e"/>
<text x="389.7" y="564.8" font-size="8.5" textLength="17.0" lengthAdjust="spacingAndGlyphs" fill="#231f20" color="#231f20">L1-C</text>
<rect x="369.3" y="571.2" width="17" height="11.2" fill="#a40e2d"/>
<text x="389.7" y="579.4" font-size="8.5" textLength="7.8" lengthAdjust="spacingAndGlyphs" fill="#231f20" color="#231f20">L1</text>
<rect x="0" y="0" width="520" height="1.2" fill="#000"/><rect x="0" y="0" width="1.2" height="666" fill="#000"/><rect x="518.5" y="0" width="1.5" height="666" fill="#000"/><rect x="0" y="664.3" width="520" height="1.7" fill="#000"/>
</svg>
</body></html>
